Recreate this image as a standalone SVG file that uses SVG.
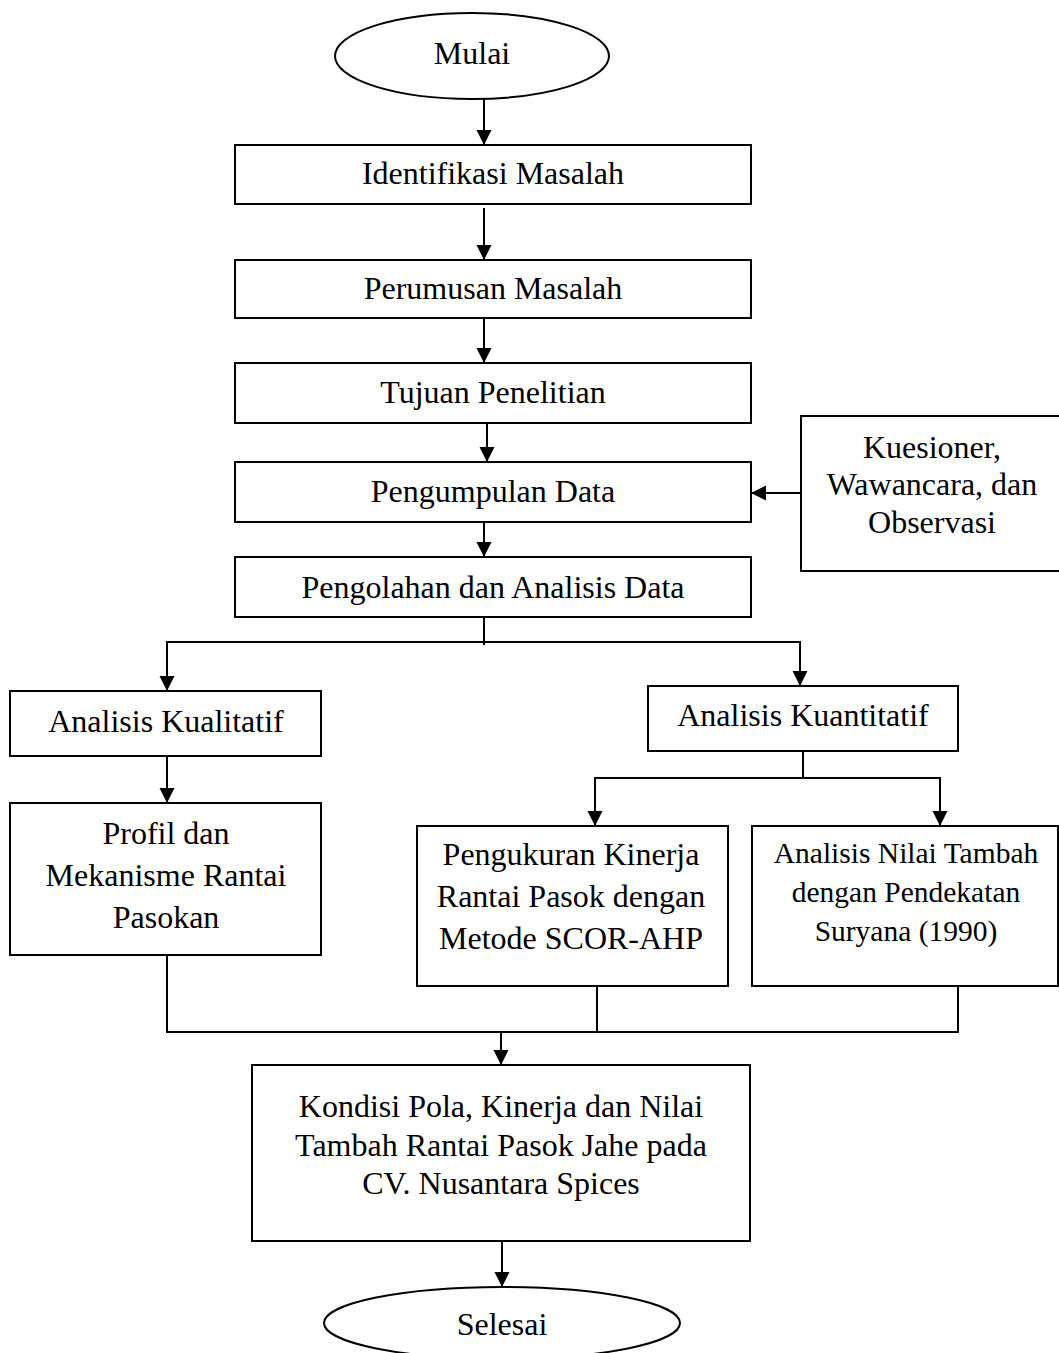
<svg xmlns="http://www.w3.org/2000/svg" width="1059" height="1353" viewBox="0 0 1059 1353">
<style>
.box{fill:#fff;stroke:#000;stroke-width:2}
.t{font-family:"Liberation Serif","Times New Roman",serif;font-size:32px;fill:#000;text-anchor:middle}
.s{font-size:29.5px}
.ln{fill:none;stroke:#000;stroke-width:2}
</style>
<defs>
<marker id="ah" markerUnits="userSpaceOnUse" markerWidth="16" markerHeight="16" refX="15" refY="7.5" orient="auto">
<path d="M0,0 L15,7.5 L0,15 Z" fill="#000"/>
</marker>
</defs>
<rect width="1059" height="1353" fill="#fff"/>

<g id="connectors">
<line class="ln" x1="484" y1="99" x2="484" y2="145" marker-end="url(#ah)"/>
<line class="ln" x1="484" y1="208" x2="484" y2="260" marker-end="url(#ah)"/>
<line class="ln" x1="484" y1="318" x2="484" y2="363" marker-end="url(#ah)"/>
<line class="ln" x1="487" y1="423" x2="487" y2="462" marker-end="url(#ah)"/>
<line class="ln" x1="484" y1="522" x2="484" y2="557" marker-end="url(#ah)"/>
<line class="ln" x1="801" y1="493" x2="751" y2="493" marker-end="url(#ah)"/>
<line class="ln" x1="484" y1="617" x2="484" y2="645"/>
<line class="ln" x1="166" y1="642" x2="801" y2="642"/>
<line class="ln" x1="167" y1="642" x2="167" y2="691" marker-end="url(#ah)"/>
<line class="ln" x1="800" y1="642" x2="800" y2="686" marker-end="url(#ah)"/>
<line class="ln" x1="167" y1="756" x2="167" y2="803" marker-end="url(#ah)"/>
<line class="ln" x1="803" y1="751" x2="803" y2="778"/>
<line class="ln" x1="594" y1="778" x2="941" y2="778"/>
<line class="ln" x1="595" y1="778" x2="595" y2="826" marker-end="url(#ah)"/>
<line class="ln" x1="940" y1="778" x2="940" y2="826" marker-end="url(#ah)"/>
<polyline class="ln" points="167,955 167,1032 958,1032 958,986"/>
<line class="ln" x1="597" y1="986" x2="597" y2="1032"/>
<line class="ln" x1="501" y1="1032" x2="501" y2="1065" marker-end="url(#ah)"/>
<line class="ln" x1="502" y1="1241" x2="502" y2="1287" marker-end="url(#ah)"/>
</g>

<g id="mulai">
<ellipse class="box" cx="472" cy="56" rx="137" ry="43"/>
<text class="t" x="472" y="64">Mulai</text>
</g>
<g id="identifikasi">
<rect class="box" x="235" y="145" width="516" height="59"/>
<text class="t" x="493" y="184">Identifikasi Masalah</text>
</g>
<g id="perumusan">
<rect class="box" x="235" y="260" width="516" height="58"/>
<text class="t" x="493" y="299">Perumusan Masalah</text>
</g>
<g id="tujuan">
<rect class="box" x="235" y="363" width="516" height="60"/>
<text class="t" x="493" y="403">Tujuan Penelitian</text>
</g>
<g id="pengumpulan">
<rect class="box" x="235" y="462" width="516" height="60"/>
<text class="t" x="493" y="502">Pengumpulan Data</text>
</g>
<g id="kuesioner">
<rect class="box" x="801" y="416" width="262" height="155"/>
<text class="t" x="932" y="458">Kuesioner,</text>
<text class="t" x="932" y="495">Wawancara, dan</text>
<text class="t" x="932" y="533">Observasi</text>
</g>
<g id="pengolahan">
<rect class="box" x="235" y="557" width="516" height="60"/>
<text class="t" x="493" y="598">Pengolahan dan Analisis Data</text>
</g>
<g id="kualitatif">
<rect class="box" x="10" y="691" width="311" height="65"/>
<text class="t" x="166" y="732">Analisis Kualitatif</text>
</g>
<g id="kuantitatif">
<rect class="box" x="648" y="686" width="310" height="65"/>
<text class="t" x="803" y="726">Analisis Kuantitatif</text>
</g>
<g id="profil">
<rect class="box" x="10" y="803" width="311" height="152"/>
<text class="t" x="166" y="844">Profil dan</text>
<text class="t" x="166" y="886">Mekanisme Rantai</text>
<text class="t" x="166" y="928">Pasokan</text>
</g>
<g id="pengukuran">
<rect class="box" x="417" y="826" width="311" height="160"/>
<text class="t" x="571" y="865">Pengukuran Kinerja</text>
<text class="t" x="571" y="907">Rantai Pasok dengan</text>
<text class="t" x="571" y="949">Metode SCOR-AHP</text>
</g>
<g id="nilaitambah">
<rect class="box" x="752" y="826" width="306" height="160"/>
<text class="t s" x="906" y="863">Analisis Nilai Tambah</text>
<text class="t s" x="906" y="902">dengan Pendekatan</text>
<text class="t s" x="906" y="941">Suryana (1990)</text>
</g>
<g id="kondisi">
<rect class="box" x="252" y="1065" width="498" height="176"/>
<text class="t" x="501" y="1117">Kondisi Pola, Kinerja dan Nilai</text>
<text class="t" x="501" y="1156">Tambah Rantai Pasok Jahe pada</text>
<text class="t" x="501" y="1194">CV. Nusantara Spices</text>
</g>
<g id="selesai">
<ellipse class="box" cx="502" cy="1323" rx="178" ry="36"/>
<text class="t" x="502" y="1335">Selesai</text>
</g>
</svg>
